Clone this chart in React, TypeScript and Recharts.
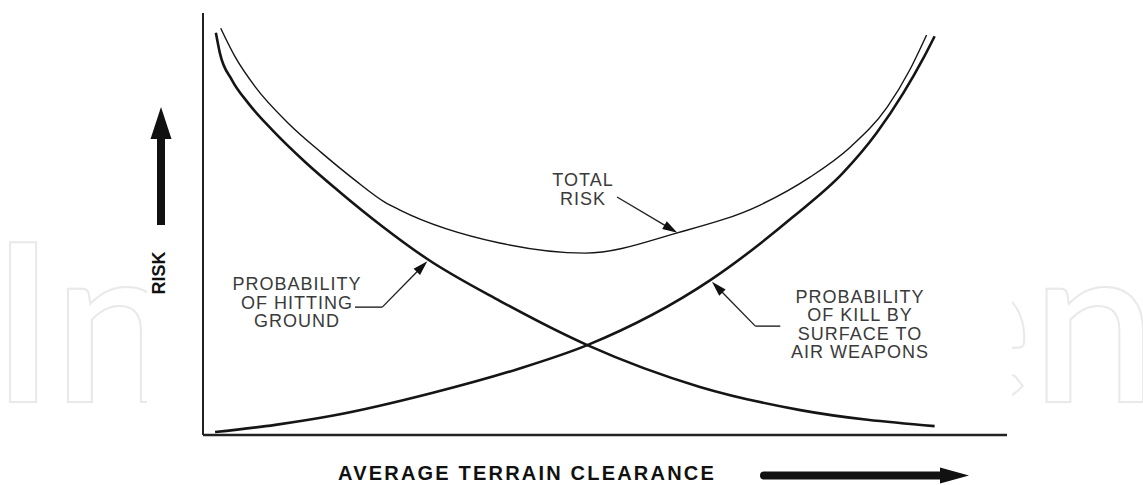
import React from 'react'
import { LineChart, Line, XAxis, YAxis, ReferenceLine } from 'recharts'

// risk curves (x = terrain clearance 0-100, y = risk 0-100)
const hittingGround = [
  { x: 1.6, y: 95.3 },
  { x: 2.1, y: 90.5 },
  { x: 3.6, y: 84.1 },
  { x: 5.6, y: 78.7 },
  { x: 8.6, y: 72.3 },
  { x: 12.7, y: 64.7 },
  { x: 17.0, y: 57.6 },
  { x: 22.4, y: 49.3 },
  { x: 27.9, y: 41.7 },
  { x: 36.9, y: 31.8 },
  { x: 47.8, y: 21.3 },
  { x: 61.8, y: 11.4 },
  { x: 74.3, y: 5.9 },
  { x: 91.0, y: 2.1 },
]

const surfaceToAir = [
  { x: 1.5, y: 0.7 },
  { x: 9.0, y: 2.4 },
  { x: 16.2, y: 4.6 },
  { x: 28.6, y: 10.0 },
  { x: 39.1, y: 15.6 },
  { x: 47.8, y: 21.3 },
  { x: 63.1, y: 36.7 },
  { x: 73.4, y: 51.7 },
  { x: 79.6, y: 62.1 },
  { x: 83.8, y: 71.6 },
  { x: 87.1, y: 81.0 },
  { x: 89.6, y: 89.3 },
  { x: 91.0, y: 94.5 },
]

const totalRisk = [
  { x: 2.2, y: 96.4 },
  { x: 4.0, y: 89.6 },
  { x: 6.5, y: 82.5 },
  { x: 10.6, y: 73.9 },
  { x: 14.8, y: 66.8 },
  { x: 18.9, y: 60.4 },
  { x: 22.6, y: 55.2 },
  { x: 24.5, y: 53.3 },
  { x: 36.9, y: 45.5 },
  { x: 47.5, y: 43.1 },
  { x: 59.0, y: 47.9 },
  { x: 69.3, y: 54.5 },
  { x: 75.5, y: 61.1 },
  { x: 80.5, y: 68.2 },
  { x: 85.1, y: 77.7 },
  { x: 87.9, y: 86.5 },
  { x: 90.0, y: 94.8 },
]

// leader lines from the labels to the curves (last point gets the arrowhead)
const groundLeader = [
  { x: 18.9, y: 30.3 },
  { x: 22.3, y: 30.3 },
  { x: 27.9, y: 41.2 },
]
const totalLeader = [
  { x: 51.5, y: 56.4 },
  { x: 59.0, y: 47.9 },
]
const samLeader = [
  { x: 71.8, y: 25.8 },
  { x: 68.7, y: 25.8 },
  { x: 63.3, y: 36.3 },
]

const groundLabel = ['PROBABILITY', 'OF HITTING', 'GROUND']
const totalLabel = ['TOTAL', 'RISK']
const samLabel = ['PROBABILITY', 'OF KILL BY', 'SURFACE TO', 'AIR WEAPONS']

const INK = '#151515'
const FONT = '"Liberation Sans", Arial, sans-serif'

function ArrowLine(props: any) {
  const { x1, y1, x2, y2 } = props
  const dx = x2 - x1
  const dy = y2 - y1
  const len = Math.sqrt(dx * dx + dy * dy) || 1
  const ux = dx / len
  const uy = dy / len
  const L = 15
  const W = 4.5
  const bx = x2 - ux * L
  const by = y2 - uy * L
  const pts = `${x2},${y2} ${bx - uy * W},${by + ux * W} ${bx + uy * W},${by - ux * W}`
  return (
    <g>
      <line x1={x1} y1={y1} x2={bx + ux * 2} y2={by + uy * 2} stroke="#222" strokeWidth={1.4} />
      <polygon points={pts} fill="#111" />
    </g>
  )
}

function leaderLines(pts: { x: number; y: number }[], key: string) {
  return pts.slice(1).map((p, i) => {
    const last = i === pts.length - 2
    return (
      <ReferenceLine
        key={key + i}
        segment={[pts[i], p]}
        stroke="#222"
        strokeWidth={1.4}
        ifOverflow="visible"
        shape={last ? (props: any) => <ArrowLine {...props} /> : undefined}
      />
    )
  })
}

function TextBlock({ lines, x, y0, step }: { lines: string[]; x: number; y0: number; step: number }) {
  return (
    <>
      {lines.map((t, i) => (
        <text
          key={t + i}
          x={x}
          y={y0 + i * step}
          textAnchor="middle"
          fontFamily={FONT}
          fontSize={18}
          letterSpacing={1}
          fill="#3a3a3a"
        >
          {t}
        </text>
      ))}
    </>
  )
}

export default function App() {
  const W = 1143
  const H = 485
  return (
    <div style={{ position: 'absolute', left: 0, top: 0, width: W, height: H, background: '#fff' }}>
      {/* faint publisher watermark behind the figure */}
      <svg width={W} height={H} style={{ position: 'absolute', left: 0, top: 0 }}>
        <g fontFamily="Lato, 'Open Sans', sans-serif" fontWeight={600} fontSize={222} fill="none" stroke="#e9e9e9" strokeWidth={2}>
          <text x={-9} y={402}>In</text>
          <text x={914} y={402}>en</text>
        </g>
        <rect x={147} y={0} width={865} height={H} fill="#fff" />
      </svg>

      <div style={{ position: 'absolute', left: 0, top: 0 }}>
        <LineChart width={W} height={H} margin={{ top: 13, left: 203, right: 136, bottom: 50 }}>
          <XAxis type="number" dataKey="x" domain={[0, 100]} hide />
          <YAxis type="number" dataKey="y" domain={[0, 100]} hide />
          {/* the two axis lines */}
          <ReferenceLine x={0} stroke="#222" strokeWidth={2} ifOverflow="visible" />
          <ReferenceLine y={0} stroke="#222" strokeWidth={2.6} ifOverflow="visible" />
          <Line data={totalRisk} dataKey="y" type="monotone" stroke={INK} strokeWidth={1.4} dot={false} isAnimationActive={false} />
          <Line data={hittingGround} dataKey="y" type="monotone" stroke={INK} strokeWidth={2.6} dot={false} isAnimationActive={false} />
          <Line data={surfaceToAir} dataKey="y" type="monotone" stroke={INK} strokeWidth={2.6} dot={false} isAnimationActive={false} />
          {leaderLines(groundLeader, 'g')}
          {leaderLines(totalLeader, 't')}
          {leaderLines(samLeader, 's')}
        </LineChart>
      </div>

      {/* labels and axis titles */}
      <svg width={W} height={H} style={{ position: 'absolute', left: 0, top: 0, pointerEvents: 'none' }}>
        <TextBlock lines={groundLabel} x={297} y0={290} step={18.5} />
        <TextBlock lines={totalLabel} x={583} y0={186} step={18.5} />
        <TextBlock lines={samLabel} x={860} y0={303} step={18.4} />

        <text
          x={0}
          y={0}
          transform="translate(165,273) rotate(-90)"
          textAnchor="middle"
          fontFamily={FONT}
          fontWeight="bold"
          fontSize={18}
          fill="#111"
        >
          RISK
        </text>
        <rect x={157} y={137} width={8} height={88} fill="#111" />
        <polygon points="161,107 150.5,139 171.5,139" fill="#111" />

        <text
          x={338}
          y={480}
          fontFamily={FONT}
          fontWeight="bold"
          fontSize={20}
          letterSpacing={2.2}
          fill="#111"
        >
          AVERAGE TERRAIN CLEARANCE
        </text>
        <line x1={764} y1={475.5} x2={945} y2={475.5} stroke="#111" strokeWidth={8} strokeLinecap="round" />
        <polygon points="969,475.5 940,467.5 940,483.5" fill="#111" />
      </svg>
    </div>
  )
}
